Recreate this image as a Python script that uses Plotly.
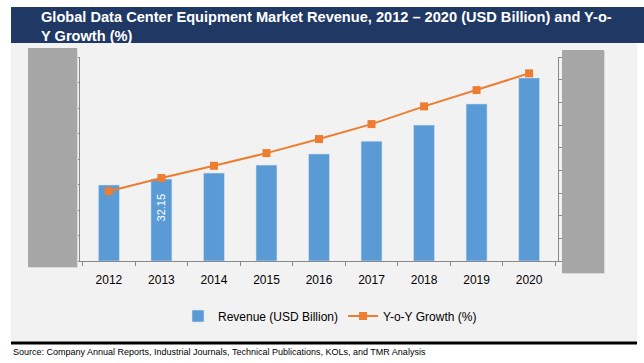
import plotly.graph_objects as go

years = ["2012", "2013", "2014", "2015", "2016", "2017", "2018", "2019", "2020"]
revenue = [29.8, 32.15, 34.5, 37.6, 42.0, 47.0, 53.3, 61.6, 71.8]
growth = [15.4, 18.3, 21.0, 23.8, 26.9, 30.2, 34.1, 37.7, 41.4]
labelled_index = 1  # only the 2013 bar carries a value label

W, H = 644, 363
L, R, T, B = 80, 86, 57, 102
PW, PH = W - L - R, H - T - B

def px(x):
    return (x - L) / PW

def py(y):
    return (H - B - y) / PH

fig = go.Figure()
fig.add_trace(go.Bar(
    x=years, y=revenue, name="Revenue (USD Billion)",
    marker=dict(color="#5b9bd5", line=dict(color="#d6e4f2", width=0.6)),
    width=0.4,
    yaxis="y",
))
fig.add_trace(go.Scatter(
    x=years, y=growth, name="Y-o-Y Growth (%)", mode="lines+markers",
    line=dict(color="#ed7d31", width=2),
    marker=dict(symbol="square", size=8, color="#ed7d31"),
    yaxis="y2",
))

shapes = [
    dict(type="rect", xref="paper", yref="paper", x0=px(11), x1=px(637), y0=py(342), y1=py(43),
         fillcolor="#f2f2f2", line=dict(width=0), layer="below"),
    dict(type="rect", xref="paper", yref="paper", x0=px(11), x1=px(644), y0=py(43), y1=py(7),
         fillcolor="#1f3864", line=dict(width=0), layer="below"),
    dict(type="rect", xref="paper", yref="paper", x0=px(11), x1=px(637), y0=py(344.5), y1=py(341.5),
         fillcolor="#000000", line=dict(width=0), layer="above"),
    dict(type="rect", xref="paper", yref="paper", x0=px(29), x1=px(78), y0=py(268), y1=py(49),
         fillcolor="#d9d9d9", line=dict(width=0), layer="above"),
    dict(type="rect", xref="paper", yref="paper", x0=px(28), x1=px(77), y0=py(267), y1=py(48),
         fillcolor="#a6a6a6", line=dict(width=0), layer="above"),
    dict(type="rect", xref="paper", yref="paper", x0=px(563), x1=px(605), y0=py(274), y1=py(51),
         fillcolor="#d9d9d9", line=dict(width=0), layer="above"),
    dict(type="rect", xref="paper", yref="paper", x0=px(562), x1=px(604), y0=py(273), y1=py(50),
         fillcolor="#a6a6a6", line=dict(width=0), layer="above"),
]

annotations = [
    dict(xref="paper", yref="paper", x=px(39), y=py(26), xanchor="left", yanchor="middle",
         text="<b>Global Data Center Equipment Market Revenue, 2012 – 2020 (USD Billion) and Y-o-<br>Y Growth (%)</b>",
         showarrow=False, align="left",
         font=dict(color="white", size=14.6, family="Liberation Sans")),
    dict(xref="paper", yref="paper", x=px(11), y=py(352), xanchor="left", yanchor="middle",
         text="Source: Company Annual Reports, Industrial Journals, Technical Publications, KOLs, and TMR Analysis",
         showarrow=False, font=dict(color="#000000", size=9, family="Liberation Sans")),
    dict(xref="x", yref="y", x=labelled_index, y=revenue[labelled_index],
         text=f"{revenue[labelled_index]:.2f}", textangle=-90, showarrow=False,
         xanchor="center", yanchor="top", yshift=-12,
         font=dict(color="white", size=11, family="Liberation Sans")),
]

fig.update_layout(
    width=W, height=H,
    margin=dict(l=L, r=R, t=T, b=B, pad=0),
    paper_bgcolor="white", plot_bgcolor="rgba(0,0,0,0)",
    font=dict(family="Liberation Sans", size=12, color="#000000"),
    showlegend=True,
    legend=dict(orientation="h", x=0.523, xanchor="center", y=py(316), yanchor="middle",
                bgcolor="rgba(0,0,0,0)", font=dict(size=12, color="#000000"),
                itemwidth=30, tracegroupgap=0),
    bargap=0.6,
    xaxis=dict(type="category", categoryorder="array", categoryarray=years,
               showline=True, linecolor="#898989", linewidth=1,
               ticks="outside", tickson="boundaries", ticklen=4, tickcolor="#898989",
               showgrid=False, tickfont=dict(size=12, color="#000000"), zeroline=False,
               ticklabelstandoff=8),
    yaxis=dict(range=[0, 80], dtick=10, showline=True, linecolor="#898989", linewidth=1,
               ticks="outside", ticklen=4, tickcolor="#898989", showgrid=False,
               showticklabels=False, zeroline=False),
    yaxis2=dict(range=[0, 45], dtick=5, overlaying="y", side="right", showline=True,
                linecolor="#898989", linewidth=1, ticks="outside", ticklen=4,
                tickcolor="#898989", showgrid=False, showticklabels=False, zeroline=False),
    shapes=shapes, annotations=annotations,
)

fig.write_html(
    "out.html",
    config={"displayModeBar": False},
    post_script="document.body.style.margin='0';document.body.style.overflow='hidden';",
)
